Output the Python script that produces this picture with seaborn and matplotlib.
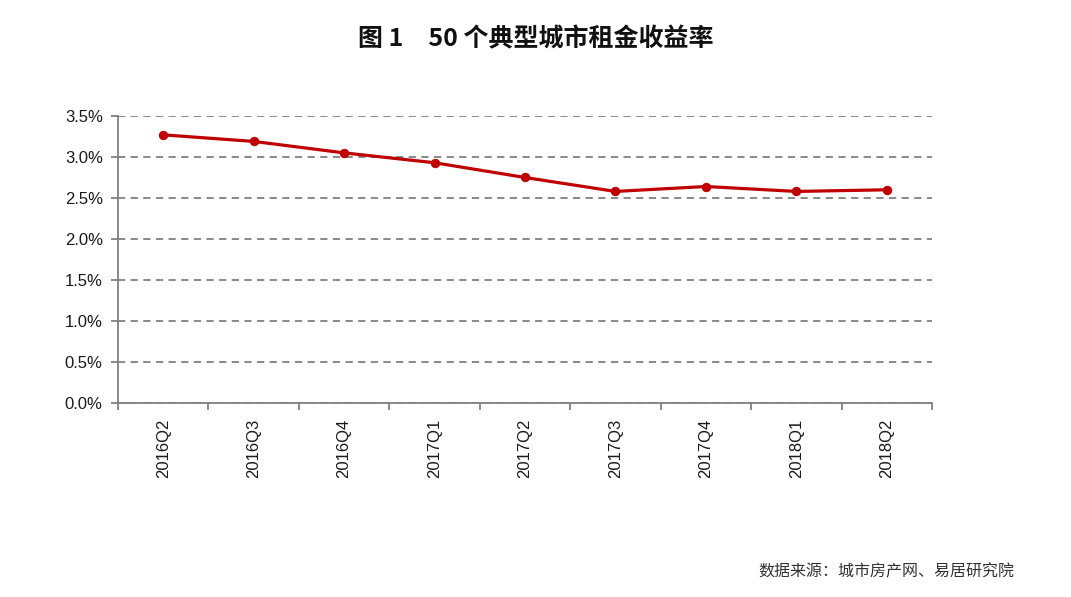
import pandas as pd
import matplotlib.pyplot as plt
import seaborn as sns
from matplotlib.ticker import FixedLocator, PercentFormatter

# data
quarters = ["2016Q2", "2016Q3", "2016Q4", "2017Q1", "2017Q2",
            "2017Q3", "2017Q4", "2018Q1", "2018Q2"]
rent_yield = [3.27, 3.19, 3.05, 2.93, 2.75, 2.58, 2.64, 2.58, 2.60]
y_ticks = [0.0, 0.5, 1.0, 1.5, 2.0, 2.5, 3.0, 3.5]

title_text = "图 1　50 个典型城市租金收益率"
source_text = "数据来源：城市房产网、易居研究院"
cjk = ["Noto Sans CJK SC", "DejaVu Sans"]
tick_font = "Liberation Sans"

sns.set_theme(style="white")
plt.rcParams['font.family'] = [tick_font, 'DejaVu Sans']

df = pd.DataFrame({"quarter": quarters, "yield": rent_yield})

fig = plt.figure(figsize=(10.71, 5.97), dpi=100)
ax = fig.add_axes([0.1102, 0.325, 0.76, 0.4807])

sns.lineplot(data=df, x="quarter", y="yield", ax=ax, sort=False,
             color="#C00000", linewidth=2.3, marker="o", markersize=6,
             markeredgecolor="#C00000")

ax.set_xlim(-0.5, len(quarters) - 0.5)
ax.set_ylim(0, 3.5)
ax.set_yticks(y_ticks)
ax.yaxis.set_major_formatter(PercentFormatter(decimals=1))
ax.grid(axis="y", color="#808080", linestyle=(0, (4, 3)), linewidth=1.3)
ax.set_axisbelow(True)

# tick marks sit between categories, labels at centers
ax.set_xticks(range(len(quarters)))
ax.set_xticklabels(quarters, rotation=90, fontsize=12, color="#1a1a1a", family=tick_font)
ax.xaxis.set_minor_locator(FixedLocator([i - 0.5 for i in range(len(quarters) + 1)]))
ax.tick_params(axis="x", which="major", length=0, pad=11)
ax.tick_params(axis="x", which="minor", bottom=True, length=5, width=1.3, color="#808080", direction="out")
ax.tick_params(axis="y", left=True, length=5, width=1.3, color="#808080", direction="out",
               labelsize=12, labelcolor="#1a1a1a", pad=6)
for lbl in ax.get_yticklabels():
    lbl.set_family(tick_font)

for side in ["top", "right"]:
    ax.spines[side].set_visible(False)
for side in ["left", "bottom"]:
    ax.spines[side].set_color("#808080")
    ax.spines[side].set_linewidth(1.3)

ax.set_xlabel("")
ax.set_ylabel("")

fig.text(0.5, 0.935, title_text, ha="center", va="center", fontsize=18,
         fontweight="bold", family=cjk, color="#111111")
fig.text(0.828, 0.042, source_text, ha="center", va="center", fontsize=11.5,
         family=cjk, color="#333333")

fig.savefig("out.png", dpi=100)
